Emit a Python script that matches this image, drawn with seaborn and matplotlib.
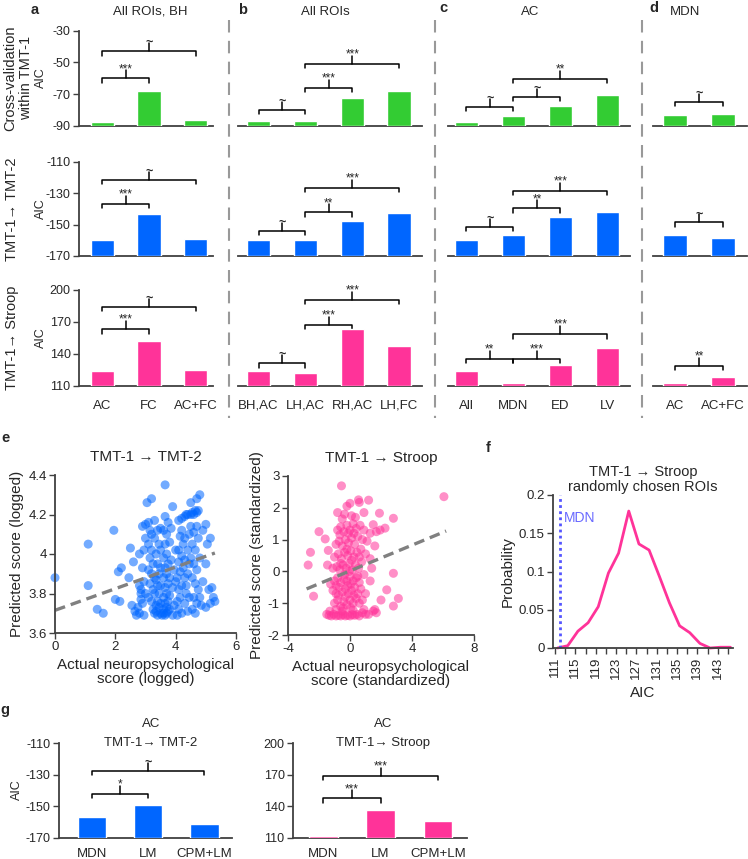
import numpy as np
import pandas as pd
import matplotlib
matplotlib.use("Agg")
import matplotlib.pyplot as plt
import seaborn as sns
from matplotlib.lines import Line2D

# ---------------- data ----------------
cats_a = ["AC", "FC", "AC+FC"]
cats_b = ["BH,AC", "LH,AC", "RH,AC", "LH,FC"]
cats_c = ["All", "MDN", "ED", "LV"]
cats_d = ["AC", "AC+FC"]

# AIC, cross-validation within TMT-1
cv_a = [-87.3, -68.0, -86.2]
cv_b = [-86.7, -87.0, -72.5, -67.8]
cv_c = [-87.3, -83.5, -77.4, -70.5]
cv_d = [-82.9, -82.3]
# AIC, TMT-1 -> TMT-2
tmt2_a = [-159.8, -143.2, -159.3]
tmt2_b = [-159.8, -159.8, -147.9, -142.7]
tmt2_c = [-160.0, -156.8, -145.3, -142.1]
tmt2_d = [-156.8, -158.3]
# AIC, TMT-1 -> Stroop
stroop_a = [124.1, 152.5, 125.3]
stroop_b = [124.0, 122.0, 163.2, 147.5]
stroop_c = [123.8, 112.8, 129.4, 146.0]
stroop_d = [112.8, 118.4]

# significance brackets: (bar i, bar j, level, label)
sig_cv = {
    "a": [(0, 1, -60, "***"), (0, 2, -43, "~")],
    "b": [(0, 1, -80, "~"), (1, 2, -66, "***"), (1, 3, -51, "***")],
    "c": [(0, 1, -78, "~"), (1, 2, -71.8, "~"), (1, 3, -60.4, "**")],
    "d": [(0, 1, -74.7, "~")],
}
sig_tmt2 = {
    "a": [(0, 1, -136.8, "***"), (0, 2, -121.5, "~")],
    "b": [(0, 1, -154, "~"), (1, 2, -142.1, "**"), (1, 3, -126.4, "***")],
    "c": [(0, 1, -151.3, "~"), (1, 2, -139.6, "**"), (1, 3, -128.5, "***")],
    "d": [(0, 1, -148.5, "~")],
}
sig_stroop = {
    "a": [(0, 1, 163.2, "***"), (0, 2, 184.3, "~")],
    "b": [(0, 1, 131.3, "~"), (1, 2, 167.2, "***"), (1, 3, 190.6, "***")],
    "c": [(0, 1, 135.3, "**"), (1, 2, 135.3, "***"), (1, 3, 158.5, "***")],
    "d": [(0, 1, 129, "**")],
}

# e: TMT-1 -> TMT-2 (logged)
tmt2_actual = [
    0.0, 1.1, 1.1, 1.4, 1.6, 1.95, 2.0, 2.15, 2.1, 2.2, 2.5, 2.45, 2.6, 2.55, 2.65,
    2.7, 2.75, 2.8, 2.85, 2.9, 2.8, 2.85, 2.95, 2.9, 2.8, 2.95, 3.0, 2.9, 3.0, 3.05, 2.85, 3.0, 2.95,
    3.1, 3.15, 3.2, 3.1, 3.2, 3.15, 3.25, 3.1, 3.2, 3.3, 3.15, 3.25, 3.3, 3.1, 3.2, 3.35, 3.25, 3.3,
    3.4, 3.35, 3.45, 3.4, 3.45, 3.4, 3.35, 3.45, 3.4, 3.35, 3.45, 3.3, 3.4, 3.3, 3.2, 3.5, 3.5, 3.5,
    3.5, 3.5, 3.5,
    3.55, 3.6, 3.65, 3.7, 3.75, 3.6, 3.7, 3.8, 3.65, 3.75, 3.6, 3.7, 3.8, 3.65, 3.75, 3.6, 3.7, 3.8,
    3.65, 3.75, 3.6, 3.7, 3.85, 3.65, 3.8, 3.7, 3.6, 3.85, 3.75, 3.65, 3.9, 3.65, 3.95, 3.9, 3.95,
    3.9, 4.0, 4.0,
    4.05, 4.1, 4.2, 4.05, 4.15, 4.1, 4.2, 4.05, 4.15, 4.25, 4.1, 4.2, 4.3, 4.1, 4.25, 4.15, 4.3, 4.2,
    4.1, 4.2, 4.3, 4.35, 4.4, 4.3, 4.35, 4.4, 4.45, 4.4, 4.45, 4.3, 4.4, 4.45, 4.35,
    4.5, 4.55, 4.6, 4.65, 4.7, 4.75, 4.5, 4.7, 4.8, 4.5, 4.6, 4.7, 4.55, 4.65, 4.75, 4.5, 4.6, 4.7,
    4.8, 4.55, 4.65, 4.75, 4.6, 4.7, 4.8, 4.55, 4.65, 4.85, 4.9, 5.0, 4.9, 5.05, 5.0, 5.15, 5.1, 5.15,
    5.25, 5.3, 5.0, 5.2,
]
tmt2_pred = [
    3.88, 4.05, 3.84, 3.72, 3.70, 4.12, 3.77, 3.76, 3.91, 3.93, 4.03, 3.88, 3.96, 3.74, 3.71,
    3.69, 3.73, 3.70, 3.77, 3.75, 3.84, 3.82, 3.86, 3.93, 4.00, 4.02, 4.08, 4.14, 4.15, 4.26, 3.80, 3.80, 3.69,
    4.16, 4.12, 4.10, 4.05, 4.02, 3.98, 3.95, 3.92, 3.90, 3.88, 3.85, 3.82, 3.80, 3.78, 3.76, 3.74, 3.72, 3.70,
    3.69, 3.71, 3.73, 3.76, 3.80, 3.84, 3.87, 3.90, 3.95, 4.00, 4.05, 4.08, 4.12, 4.17, 4.28, 4.13, 4.02, 3.93,
    3.84, 3.75, 3.70,
    3.69, 3.70, 3.69, 3.70, 3.71, 3.72, 3.73, 3.72, 3.75, 3.76, 3.78, 3.80, 3.79, 3.83, 3.85, 3.88, 3.90, 3.88,
    3.93, 3.95, 3.98, 4.00, 3.97, 4.05, 4.06, 4.10, 4.12, 4.13, 4.16, 4.19, 4.24, 4.35, 3.92, 3.83, 3.74,
    3.69, 4.02, 3.86,
    3.69, 3.72, 3.70, 3.76, 3.78, 3.82, 3.84, 3.88, 3.91, 3.93, 3.96, 3.99, 3.97, 4.02, 4.05, 4.09, 4.08, 4.12,
    4.17, 4.18, 4.19, 4.20, 4.20, 3.88, 3.84, 3.90, 3.95, 4.02, 4.10, 3.75, 3.71, 3.78, 3.80,
    4.20, 4.21, 4.20, 4.22, 4.21, 4.22, 4.26, 4.28, 4.30, 4.14, 4.11, 4.14, 4.05, 4.02, 4.08, 3.98, 3.95, 3.92,
    3.98, 3.88, 3.85, 3.82, 3.78, 3.75, 3.78, 3.72, 3.70, 3.74, 3.86, 4.15, 4.12, 4.05, 3.95, 4.08, 3.82, 3.75,
    3.78, 3.76, 3.73, 3.83,
]
tmt2_fit_x = [0.0, 5.3]
tmt2_fit_y = [3.715, 4.005]

# e: TMT-1 -> Stroop (standardized)
stroop_actual = [
    -2.7, -2.55, -2.35, -2.0, -1.6, -1.4, -1.25, -1.45,
    -0.55, 0.0, 0.6, 0.55, 1.2, -0.8, -0.35, 0.9, 1.9, 2.8, 6.06, -0.2,
    1.5, 2.26, 1.94, 1.7, 1.3, 2.8, 2.37, 3.12, 2.0, 2.8, 1.6, 1.7, 1.3, 1.3, 1.6, 1.4, 1.2, 1.5,
    -1.5, -1.35, -1.2, -1.05, -0.9, -0.75, -0.6, -0.45, -0.3, -0.15, 0.0, 0.15, 0.3, 0.45, 0.6, 0.8,
    1.0, -1.3, -0.5, 0.2, 0.9, -0.9,
    -1.0, -0.8, -0.6, -0.4, -0.2, 0.0, 0.2, 0.4, 0.6, 0.8,
    -1.1, -0.9, -0.7, -0.5, -0.3, -0.1, 0.1, 0.3, 0.5, 0.7, 1.0,
    -1.0, -0.8, -0.6, -0.4, -0.2, 0.0, 0.2, 0.4, 0.6, 0.9,
    -1.1, -0.85, -0.65, -0.45, -0.25, -0.05, 0.15, 0.35, 0.55, 0.75,
    -1.0, -0.75, -0.55, -0.35, -0.15, 0.05, 0.25, 0.45, 0.7, 1.0,
    -0.9, -0.7, -0.5, -0.3, -0.1, 0.1, 0.3, 0.5, 0.8, 1.1,
    -0.8, -0.6, -0.4, -0.2, 0.0, 0.2, 0.4, 0.65, 0.9, -0.5, 0.1, 0.35,
    -0.3, -0.15, 0.05, -0.05, 0.1, -0.2, -0.35, 0.25, -0.45, 0.05, -0.6, -0.75, 0.5, 0.6, -0.9,
    -0.1, 0.25, -0.65,
]
stroop_pred = [
    0.2, 0.6, -0.78, 1.25, 1.02, 0.66, -0.4, 0.2,
    2.69, 2.14, 2.17, 2.25, 2.24, 1.85, 1.80, 1.85, 1.83, 1.67, 2.35, 2.05,
    1.47, 1.36, 1.3, 1.25, 1.2, -0.06, -0.58, -0.85, -0.9, -1.09, -1.2, -1.3, -0.3, 0.4, 0.8, 0.1, -1.35, -1.25,
    -1.35, -1.38, -1.4, -1.35, -1.4, -1.38, -1.4, -1.36, -1.4, -1.38, -1.4, -1.36, -1.38, -1.35, -1.4, -1.3,
    -1.35, -1.25, -1.25, -1.22, -1.2, -1.2,
    -1.0, -0.9, -1.1, -0.95, -1.05, -0.9, -1.0, -0.85, -1.0, -0.9,
    -0.6, -0.7, -0.5, -0.65, -0.55, -0.7, -0.6, -0.5, -0.7, -0.55, -0.7,
    -0.3, -0.2, -0.35, -0.25, -0.3, -0.15, -0.3, -0.2, -0.35, -0.1,
    0.1, 0.15, 0.05, 0.2, 0.1, 0.25, 0.05, 0.2, 0.1, 0.3,
    0.45, 0.55, 0.4, 0.6, 0.5, 0.65, 0.45, 0.6, 0.7, 0.55,
    0.85, 0.95, 0.8, 1.0, 0.9, 1.05, 0.85, 1.1, 1.0, 0.95,
    1.3, 1.4, 1.25, 1.45, 1.3, 1.5, 1.35, 1.45, 1.3, 1.65, 1.75, 1.7,
    -0.8, -0.45, -0.4, 0.0, 0.35, 0.7, -0.1, -0.75, -1.15, -1.15, 0.25, -0.75, -0.15, 0.45, -0.45,
    1.2, 1.2, 1.15,
]
stroop_fit_x = [-2.8, 6.2]
stroop_fit_y = [-0.55, 1.27]

# f: distribution of AIC for randomly chosen ROIs
rand_aic = [111.5, 113.5, 115.5, 117.5, 119.5, 121.5, 123.5, 125.5, 127.5,
            129.5, 131.5, 133.5, 135.5, 137.5, 139.5, 141.5, 143.5, 145.5]
rand_prob = [0.0, 0.003, 0.022, 0.033, 0.054, 0.098, 0.124, 0.179, 0.136,
             0.128, 0.094, 0.059, 0.029, 0.020, 0.006, 0.0, 0.001, 0.001]
mdn_aic = 111.9

# g
cats_g = ["MDN", "LM", "CPM+LM"]
g_tmt2 = [-157.0, -149.4, -161.3]
g_stroop = [112.0, 136.5, 126.1]
sig_g_tmt2 = [(0, 1, -142.2, "*"), (0, 2, -127.7, "~")]
sig_g_stroop = [(0, 1, 147.6, "***"), (0, 2, 168.7, "***")]

GREEN = "#33cc33"
BLUE = "#0066ff"
PINK = "#ff3399"
SPINE = "#404040"

# ---------------- style ----------------
sns.set_theme(style="white")
plt.rcParams["font.family"] = ["Liberation Sans", "DejaVu Sans"]
plt.rcParams["axes.linewidth"] = 1.3
plt.rcParams["axes.unicode_minus"] = False

W, H = 748, 859
fig = plt.figure(figsize=(W / 100, H / 100), dpi=100)


def add_ax(l, t, r, b):
    return fig.add_axes([l / W, 1 - b / H, (r - l) / W, (b - t) / H])


def style_axes(ax, left=True):
    for s in ["top", "right"]:
        ax.spines[s].set_visible(False)
    ax.spines["bottom"].set_color(SPINE)
    ax.spines["left"].set_color(SPINE)
    ax.spines["left"].set_visible(left)
    ax.tick_params(direction="out", length=4, width=1, color=SPINE,
                   left=left, bottom=True, labelleft=left, pad=2)


def bracket(ax, i, j, y, label, rng):
    drop = 0.045 * rng
    stem = 0.085 * rng
    ax.plot([i, i, j, j], [y - drop, y, y, y - drop], color="black", lw=1.1, clip_on=False)
    m = (i + j) / 2
    ax.plot([m, m], [y, y + stem], color="black", lw=1.1, clip_on=False)
    if label == "~":
        ax.text(m, y + stem, label, ha="center", va="center", fontsize=9,
                fontweight="bold", clip_on=False)
    else:
        ax.text(m, y + stem - 0.05 * rng, label, ha="center", va="bottom", fontsize=8.5,
                clip_on=False)


def bar_panel(ax, cats, vals, color, ylim, xlim, sigs, yticks=None, xlabels=True, xpad=6):
    base = ylim[0]
    df = pd.DataFrame({"region": cats, "height": np.array(vals) - base})
    sns.barplot(data=df, x="region", y="height", color=color, saturation=1, width=0.5,
                bottom=base, errorbar=None, ax=ax, zorder=3)
    ax.set_xlim(*xlim)
    ax.set_ylim(*ylim)
    ax.set_xlabel("")
    ax.set_ylabel("")
    style_axes(ax, left=yticks is not None)
    ax.tick_params(axis="x", bottom=False, labelbottom=xlabels, labelsize=9.5, pad=xpad)
    if yticks is not None:
        ax.set_yticks(yticks)
        ax.tick_params(axis="y", labelsize=9)
    for i, j, y, lab in sigs:
        bracket(ax, i, j, y, lab, ylim[1] - ylim[0])


# ---------------- top grid (a-d) ----------------
cols = {
    "a": (cats_a, (79, 213), (-0.5, 2.37)),
    "b": (cats_b, (238, 422), (-0.44, 3.49)),
    "c": (cats_c, (448, 630), (-0.39, 3.48)),
    "d": (cats_d, (653, 747), (-0.46, 1.5)),
}
rows = [
    ({"a": cv_a, "b": cv_b, "c": cv_c, "d": cv_d}, sig_cv, GREEN, (30.7, 126), (-90, -30), [-90, -70, -50, -30]),
    ({"a": tmt2_a, "b": tmt2_b, "c": tmt2_c, "d": tmt2_d}, sig_tmt2, BLUE, (162, 256), (-170, -110), [-170, -150, -130, -110]),
    ({"a": stroop_a, "b": stroop_b, "c": stroop_c, "d": stroop_d}, sig_stroop, PINK, (290, 386), (110, 200), [110, 140, 170, 200]),
]
for r, (vals, sigs, color, (top, bot), ylim, yticks) in enumerate(rows):
    for key, (cats, (l, rgt), xlim) in cols.items():
        ax = add_ax(l, top, rgt, bot)
        bar_panel(ax, cats, vals[key], color, ylim, xlim, sigs[key],
                  yticks=yticks if key == "a" else None, xlabels=(r == 2))

for x in [229, 435, 642]:
    fig.add_artist(Line2D([x / W, x / W], [1 - 20 / H, 1 - 418 / H], color="#999999",
                          lw=1.5, ls=(0, (6, 4))))

for lab, x, y in [("a", 35, 10), ("b", 243, 10), ("c", 443, 8), ("d", 654, 8),
                  ("e", 5, 438), ("f", 488, 448), ("g", 5, 710)]:
    fig.text(x / W, 1 - y / H, lab, fontsize=10.5, fontweight="bold", ha="center", va="center")
for t, x in [("All ROIs, BH", 150), ("All ROIs", 325), ("AC", 530), ("MDN", 685)]:
    fig.text(x / W, 1 - 12 / H, t, fontsize=9.5, ha="center", va="center")

fig.text(18 / W, 1 - 78 / H, "Cross-validation\nwithin TMT-1", rotation=90, fontsize=10.5,
         ha="center", va="center", linespacing=1.1)
fig.text(12 / W, 1 - 209 / H, "TMT-1\u2192 TMT-2", rotation=90, fontsize=10.5, ha="center", va="center")
fig.text(12 / W, 1 - 338 / H, "TMT-1\u2192 Stroop", rotation=90, fontsize=10.5, ha="center", va="center")
for y in [78, 209, 338]:
    fig.text(41 / W, 1 - y / H, "AIC", rotation=90, fontsize=9, ha="center", va="center")

# ---------------- e: scatter plots ----------------
ax = add_ax(55, 475, 236, 633)
sns.scatterplot(x=tmt2_actual, y=tmt2_pred, color=BLUE, alpha=0.55, s=42, edgecolor="none",
                ax=ax, clip_on=False)
sns.lineplot(x=tmt2_fit_x, y=tmt2_fit_y, color="#808080", lw=2.4, linestyle=(0, (3.2, 1.8)), ax=ax)
ax.set_xlim(0, 6)
ax.set_ylim(3.6, 4.4)
ax.set_xticks([0, 2, 4, 6])
ax.set_yticks([3.6, 3.8, 4.0, 4.2, 4.4])
ax.set_yticklabels(["3.6", "3.8", "4", "4.2", "4.4"])
style_axes(ax)
ax.tick_params(labelsize=9.5)
ax.set_title("TMT-1 \u2192 TMT-2", fontsize=11, pad=10)
ax.set_xlabel("Actual neuropsychological\nscore (logged)", fontsize=11, labelpad=3, linespacing=1.0)
ax.set_ylabel("Predicted score (logged)", fontsize=11, labelpad=3)

ax = add_ax(288, 476, 474, 635)
sns.scatterplot(x=stroop_actual, y=stroop_pred, color=PINK, alpha=0.55, s=42, edgecolor="none",
                ax=ax, clip_on=False)
sns.lineplot(x=stroop_fit_x, y=stroop_fit_y, color="#808080", lw=2.4, linestyle=(0, (3.2, 1.8)), ax=ax)
ax.set_xlim(-4, 8)
ax.set_ylim(-2, 3)
ax.set_xticks([-4, 0, 4, 8])
ax.set_yticks([-2, -1, 0, 1, 2, 3])
style_axes(ax)
ax.tick_params(labelsize=9.5)
ax.set_title("TMT-1 \u2192 Stroop", fontsize=11, pad=10)
ax.set_xlabel("Actual neuropsychological\nscore (standardized)", fontsize=11, labelpad=3, linespacing=1.0)
ax.set_ylabel("Predicted score (standardized)", fontsize=11, labelpad=3)

# ---------------- f: random ROI distribution ----------------
ax = add_ax(553, 495, 733, 648)
sns.lineplot(x=rand_aic, y=rand_prob, color=PINK, lw=2, ax=ax, clip_on=False)
ax.axvline(mdn_aic, color="#5555ff", lw=2, ls=(0, (1, 1.2)))
ax.text(mdn_aic + 0.8, 0.17, "MDN", color="#6a6aff", fontsize=10, va="center")
ax.set_xlim(110.6, 146)
ax.set_ylim(0, 0.2)
ax.set_xticks(list(range(111, 144, 4)))
ax.set_xticks(list(range(113, 146, 4)), minor=True)
ax.set_yticks([0, 0.05, 0.1, 0.15, 0.2])
ax.set_yticklabels(["0", "0.05", "0.1", "0.15", "0.2"])
style_axes(ax)
ax.tick_params(axis="x", which="both", direction="out", length=4, width=1, color=SPINE, bottom=True)
ax.tick_params(axis="x", labelrotation=90, labelsize=9.5)
ax.tick_params(axis="y", labelsize=9.5)
ax.set_xlabel("AIC", fontsize=11, labelpad=5)
ax.set_ylabel("Probability", fontsize=11, labelpad=3)
ax.set_title("TMT-1 \u2192 Stroop\nrandomly chosen ROIs", fontsize=10.5, pad=3, linespacing=1.1)

# ---------------- g ----------------
ax = add_ax(59, 743, 232, 838)
bar_panel(ax, cats_g, g_tmt2, BLUE, (-170, -110), (-0.59, 2.49), sig_g_tmt2,
          yticks=[-170, -150, -130, -110], xpad=3)
ax.text(0.53, 1.2, "AC", transform=ax.transAxes, ha="center", va="center", fontsize=9.5)
ax.text(0.53, 1.0, "TMT-1\u2192 TMT-2", transform=ax.transAxes, ha="center", va="center", fontsize=9.5)
fig.text(17 / W, 1 - 790 / H, "AIC", rotation=90, fontsize=9, ha="center", va="center")

ax = add_ax(293, 743, 467, 838)
bar_panel(ax, cats_g, g_stroop, PINK, (110, 200), (-0.53, 2.51), sig_g_stroop,
          yticks=[110, 140, 170, 200], xpad=3)
ax.text(0.52, 1.2, "AC", transform=ax.transAxes, ha="center", va="center", fontsize=9.5)
ax.text(0.52, 1.0, "TMT-1\u2192 Stroop", transform=ax.transAxes, ha="center", va="center", fontsize=9.5)

fig.savefig("out.png", dpi=100)
